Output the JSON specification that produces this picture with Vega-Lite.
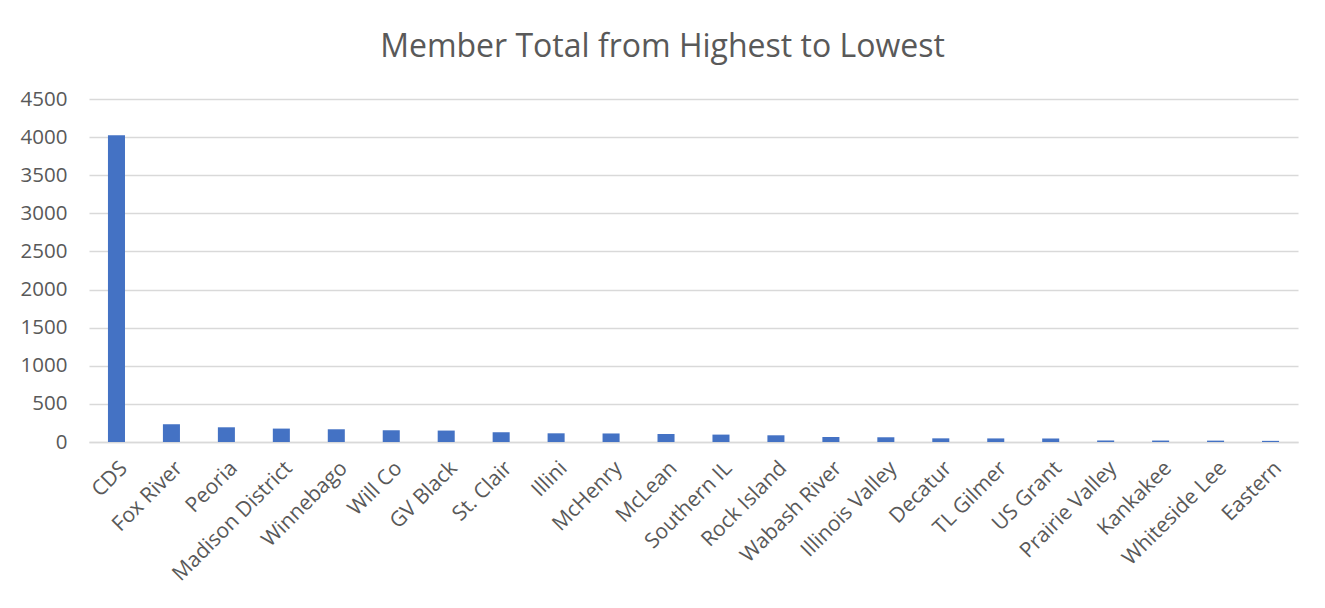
{
  "$schema": "https://vega.github.io/schema/vega-lite/v6.json",
  "width": 1209,
  "height": 343,
  "autosize": {"type": "none"},
  "padding": {"left": 89, "top": 99, "right": 27, "bottom": 166},
  "background": "white",
  "title": {
    "text": "Member Total from Highest to Lowest",
    "anchor": "middle",
    "frame": "group",
    "dx": -31,
    "offset": 25,
    "font": "Open Sans",
    "fontSize": 32,
    "fontWeight": "normal",
    "color": "#595959"
  },
  "data": {
    "values": [
      {"district": "CDS", "members": 4025},
      {"district": "Fox River", "members": 233},
      {"district": "Peoria", "members": 193},
      {"district": "Madison District", "members": 176},
      {"district": "Winnebago", "members": 167},
      {"district": "Will Co", "members": 154},
      {"district": "GV Black", "members": 150},
      {"district": "St. Clair", "members": 128},
      {"district": "Illini", "members": 114},
      {"district": "McHenry", "members": 112},
      {"district": "McLean", "members": 105},
      {"district": "Southern IL", "members": 97},
      {"district": "Rock Island", "members": 88},
      {"district": "Wabash River", "members": 66},
      {"district": "Illinois Valley", "members": 62},
      {"district": "Decatur", "members": 48},
      {"district": "TL Gilmer", "members": 47},
      {"district": "US Grant", "members": 46},
      {"district": "Prairie Valley", "members": 20},
      {"district": "Kankakee", "members": 19},
      {"district": "Whiteside Lee", "members": 18},
      {"district": "Eastern", "members": 15}
    ]
  },
  "mark": {"type": "bar", "color": "#4472c4"},
  "encoding": {
    "x": {
      "field": "district",
      "type": "nominal",
      "sort": null,
      "scale": {"paddingInner": 0.69, "paddingOuter": 0.345},
      "axis": {
        "title": null,
        "labelAngle": -45,
        "labelFont": "Open Sans",
        "labelFontSize": 21,
        "labelColor": "#595959",
        "ticks": false,
        "labelPadding": 15,
        "domainColor": "#d9d9d9",
        "domainWidth": 1.5,
        "grid": false
      }
    },
    "y": {
      "field": "members",
      "type": "quantitative",
      "scale": {"domain": [0, 4500]},
      "axis": {
        "title": null,
        "values": [0, 500, 1000, 1500, 2000, 2500, 3000, 3500, 4000, 4500],
        "format": "d",
        "labelFont": "Open Sans",
        "labelFontSize": 20.5,
        "labelColor": "#595959",
        "labelPadding": 22,
        "ticks": false,
        "domain": false,
        "gridColor": "#d9d9d9",
        "gridWidth": 1.5
      }
    }
  },
  "config": {"view": {"stroke": null}}
}
